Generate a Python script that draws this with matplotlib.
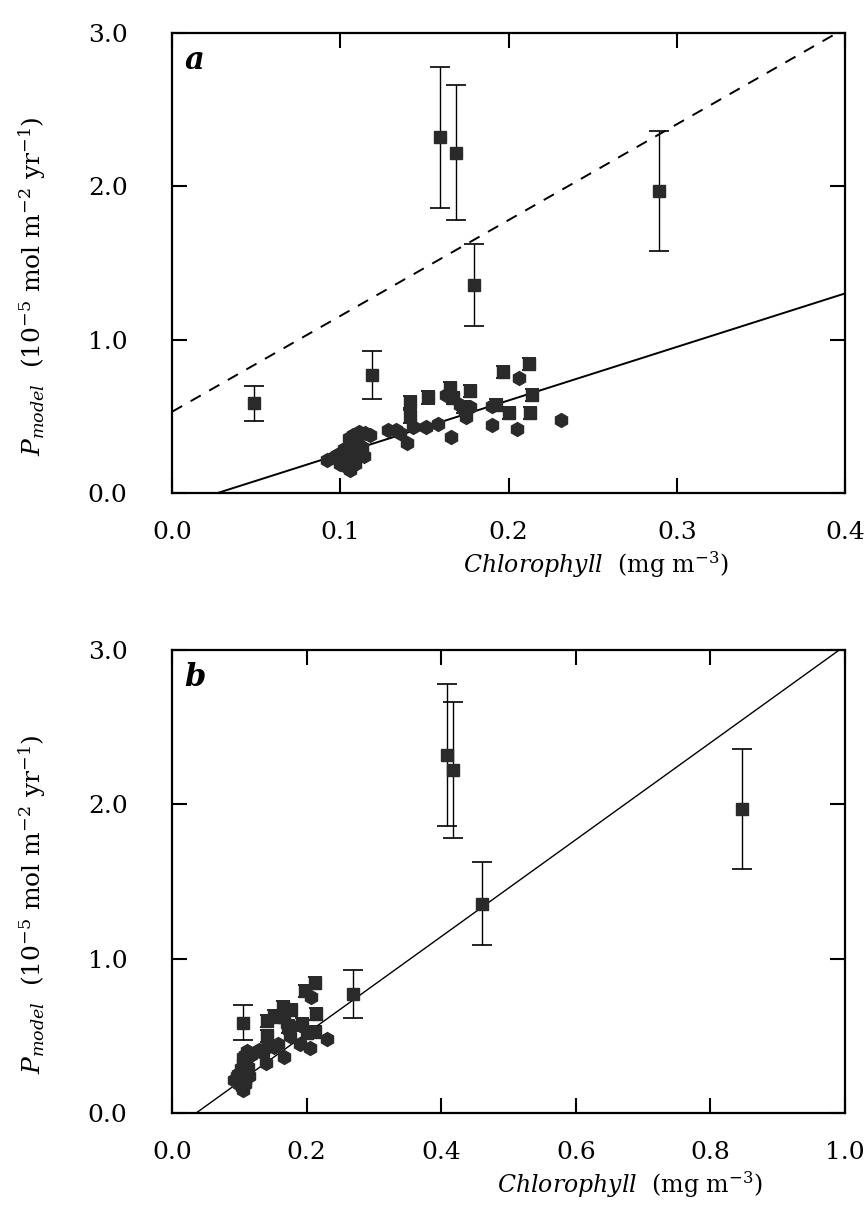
import matplotlib
matplotlib.use("Agg")
import matplotlib.pyplot as plt
import numpy as np

plt.rcParams['font.family'] = ['DejaVu Serif']
plt.rcParams['mathtext.fontset'] = 'dejavuserif'

# ---- data ----
# highlighted points (squares with error bars)
big_x_a = [0.049, 0.119, 0.159, 0.169, 0.1795, 0.2896]
big_x_b = [0.106, 0.269, 0.409, 0.418, 0.461, 0.847]
big_y = [0.585, 0.77, 2.32, 2.22, 1.357, 1.97]
big_err = [0.115, 0.155, 0.46, 0.44, 0.27, 0.39]

# cluster squares with small error bars
cl_sq_x = [0.1415, 0.1415, 0.152, 0.177, 0.165, 0.214, 0.1926, 0.213, 0.2005, 0.167, 0.173, 0.197, 0.212]
cl_sq_y = [0.596, 0.50, 0.624, 0.665, 0.685, 0.64, 0.574, 0.524, 0.52, 0.62, 0.56, 0.79, 0.84]
cl_sq_err = [0.04] * len(cl_sq_x)

# cluster circles
cl_c_x = [0.2065, 0.19, 0.19, 0.205, 0.231, 0.166, 0.158, 0.151, 0.1435, 0.1395, 0.1355,
          0.1286, 0.133, 0.175, 0.171, 0.163, 0.177, 0.174, 0.1147, 0.1078, 0.106, 0.102,
          0.096, 0.092, 0.106, 0.112, 0.114, 0.108, 0.0997, 0.104, 0.111, 0.1177, 0.102, 0.107,
          0.110, 0.105, 0.113, 0.098, 0.103, 0.109]
cl_c_y = [0.75, 0.567, 0.444, 0.42, 0.476, 0.363, 0.448, 0.428, 0.432, 0.324, 0.389,
          0.411, 0.41, 0.498, 0.574, 0.64, 0.56, 0.535, 0.389, 0.378, 0.324, 0.29,
          0.237, 0.215, 0.15, 0.259, 0.24, 0.21, 0.19, 0.17, 0.40, 0.378, 0.26, 0.27,
          0.35, 0.36, 0.30, 0.25, 0.22, 0.19]

# regression lines
fit_a_solid = (3.49, 0.027)   # slope, x-intercept
fit_a_dash = (6.25, 0.53)     # slope, y-intercept
fit_b = (3.14, 0.036)         # slope, x-intercept

fig = plt.figure(figsize=(8.68, 12.15), dpi=100)
axa = fig.add_axes([0.1982, 0.5942, 0.7753, 0.3786])
axb = fig.add_axes([0.1982, 0.0840, 0.7753, 0.3810])

mk = dict(color='#2a2a2a', markersize=8, zorder=3)

def style(ax, xmax, xstep, letter, xlab_x):
    ax.set_xlim(0, xmax)
    ax.set_ylim(0, 3.0)
    ax.set_xticks(np.arange(0, xmax + 1e-9, xstep))
    ax.set_xticklabels([f"{v:.1f}" for v in np.arange(0, xmax + 1e-9, xstep)])
    ax.set_yticks([0, 1, 2, 3])
    ax.set_yticklabels(["0.0", "1.0", "2.0", "3.0"])
    ax.tick_params(direction='in', length=11, width=1.5, top=True, right=True,
                   labelsize=18, colors='black')
    ax.tick_params(axis='x', pad=20)
    ax.tick_params(axis='y', pad=32)
    for s in ax.spines.values():
        s.set_linewidth(1.6)
    ax.text(0.018, 0.975, letter, transform=ax.transAxes, fontsize=22,
            fontweight='bold', style='italic', va='top', ha='left')
    ax.set_xlabel(r"$\mathit{Chlorophyll}$  (mg m$^{-3}$)", fontsize=17)
    ax.xaxis.set_label_coords(xlab_x, -0.122)
    ax.set_ylabel(r"$\mathit{P}_{\mathit{model}}$  (10$^{-5}$ mol m$^{-2}$ yr$^{-1}$)", fontsize=18)
    ax.yaxis.set_label_coords(-0.185, 0.45)

def draw_cluster(ax):
    ax.errorbar(cl_sq_x, cl_sq_y, yerr=cl_sq_err, fmt='s', capsize=5, elinewidth=1.0,
                capthick=1.2, ecolor='black', color='#2a2a2a', markersize=9, zorder=3)
    ax.plot(cl_c_x, cl_c_y, 'h', color='#2a2a2a', markersize=10, zorder=3)

# panel a
xx = np.linspace(fit_a_solid[1], 0.4, 10)
axa.plot(xx, fit_a_solid[0] * (xx - fit_a_solid[1]), color='black', lw=1.4, zorder=2)
xx = np.linspace(0, 0.4, 10)
axa.plot(xx, fit_a_dash[1] + fit_a_dash[0] * xx, color='black', lw=1.4, ls=(0, (6, 5)), zorder=2)
axa.errorbar(big_x_a, big_y, yerr=big_err, fmt='s', capsize=7, elinewidth=1.0,
             capthick=1.2, ecolor='black', **mk)
draw_cluster(axa)
style(axa, 0.4, 0.1, 'a', 0.63)

# panel b
xx = np.linspace(fit_b[1], 1.0, 10)
axb.plot(xx, fit_b[0] * (xx - fit_b[1]), color='black', lw=1.0, zorder=2)
axb.errorbar(big_x_b, big_y, yerr=big_err, fmt='s', capsize=7, elinewidth=1.0,
             capthick=1.2, ecolor='black', **mk)
draw_cluster(axb)
style(axb, 1.0, 0.2, 'b', 0.68)

fig.savefig("out.png", dpi=100)
